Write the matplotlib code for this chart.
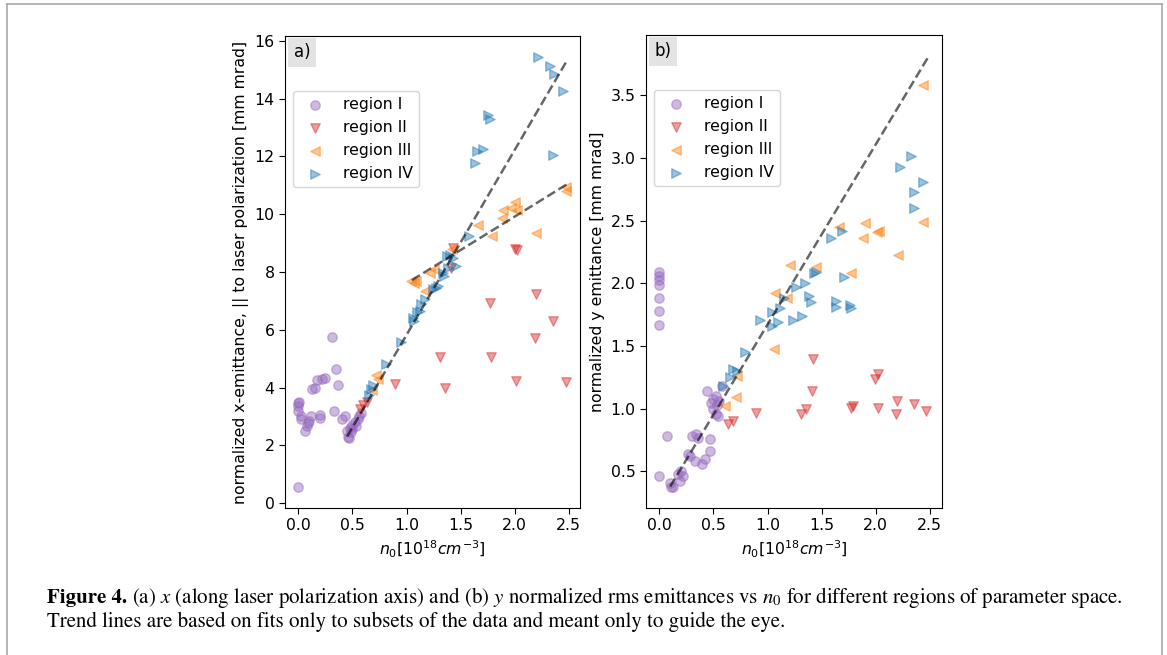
import matplotlib
matplotlib.use("Agg")
import matplotlib.pyplot as plt
from matplotlib.lines import Line2D

# ---- data, panel a (x-emittance) ----
xa_1 = [0.0, 0.0, 0.0, 0.01, 0.0, 0.02, 0.02, 0.06, 0.08, 0.09, 0.1, 0.12, 0.13, 0.15, 0.17,
        0.2, 0.2, 0.22, 0.25, 0.31, 0.35, 0.37, 0.33, 0.4, 0.43, 0.45, 0.46, 0.47, 0.48, 0.49,
        0.5, 0.5, 0.52, 0.53, 0.55, 0.56, 0.58]
ya_1 = [0.57, 3.45, 3.35, 3.5, 3.2, 3.0, 2.9, 2.48, 2.65, 2.78, 2.85, 3.02, 3.95, 4.0, 4.25,
        3.05, 2.95, 4.3, 4.32, 5.75, 4.65, 4.07, 3.18, 2.9, 3.0, 2.5, 2.3, 2.25, 2.6, 2.45,
        2.7, 2.55, 2.8, 2.65, 2.9, 3.0, 3.1]
xa_2 = [0.57, 0.6, 0.63, 0.89, 1.305, 1.36, 1.41, 1.43, 1.77, 1.78, 2.0, 2.02, 2.01, 2.2, 2.19, 2.35, 2.47]
ya_2 = [3.25, 3.4, 3.5, 4.13, 5.05, 3.98, 8.15, 8.83, 6.94, 5.05, 8.8, 8.75, 4.22, 7.23, 5.7, 6.31, 4.2]
xa_3 = [0.68, 0.72, 0.74, 1.04, 1.07, 1.09, 1.17, 1.22, 1.25, 1.42, 1.66, 1.79, 1.88, 1.89,
        1.97, 2.0, 2.02, 2.2, 2.47, 2.47]
ya_3 = [3.9, 4.45, 4.3, 7.7, 7.62, 7.68, 7.34, 7.97, 8.1, 8.8, 9.64, 9.23, 9.87, 10.15,
        10.2, 10.44, 10.15, 9.35, 10.8, 10.95]
xa_4 = [0.65, 0.67, 0.69, 0.81, 0.95, 1.06, 1.07, 1.1, 1.12, 1.13, 1.17, 1.24, 1.27, 1.29, 1.34,
        1.35, 1.38, 1.37, 1.4, 1.43, 1.46, 1.58, 1.63, 1.65, 1.71, 1.755, 1.77, 2.22, 2.33, 2.36,
        2.45, 2.35]
ya_4 = [3.73, 3.95, 4.07, 4.82, 5.56, 6.42, 6.31, 6.6, 6.65, 6.88, 7.05, 7.4, 7.46, 7.51, 7.97,
        7.86, 8.14, 8.55, 8.6, 8.49, 8.2, 9.23, 11.78, 12.2, 12.27, 13.42, 13.3, 15.43, 15.14, 14.86,
        14.28, 12.04]
# trend lines (end points)
fit_a1_x = [0.45, 2.48]
fit_a1_y = [2.3, 15.3]
fit_a2_x = [1.05, 2.48]
fit_a2_y = [7.72, 11.03]

# ---- data, panel b (y-emittance) ----
xb_1 = [0, 0, 0, 0, 0, 0, 0, 0.0, 0.07, 0.1, 0.11, 0.125, 0.17, 0.19, 0.2, 0.22, 0.26, 0.28, 0.3,
        0.34, 0.36, 0.33, 0.39, 0.42, 0.47, 0.47, 0.44, 0.48, 0.5, 0.52, 0.53, 0.55, 0.5, 0.52,
        0.54, 0.58]
yb_1 = [2.09, 2.06, 2.03, 1.99, 1.88, 1.78, 1.67, 0.46, 0.78, 0.41, 0.38, 0.38, 0.48, 0.42, 0.5,
        0.46, 0.64, 0.62, 0.78, 0.8, 0.77, 0.58, 0.56, 0.6, 0.66, 0.76, 1.14, 1.05, 1.0, 0.96,
        1.03, 1.06, 1.08, 1.1, 0.94, 1.18]
xb_2 = [0.63, 0.68, 0.89, 1.31, 1.36, 1.41, 1.42, 1.77, 1.79, 1.99, 2.02, 2.02, 2.2, 2.19, 2.36, 2.47]
yb_2 = [0.88, 0.9, 0.97, 0.96, 1.0, 1.14, 1.4, 1.01, 1.02, 1.24, 1.28, 1.01, 1.06, 0.96, 1.04, 0.98]
xb_3 = [0.61, 0.71, 0.72, 1.06, 1.07, 1.18, 1.21, 1.45, 1.66, 1.77, 1.88, 1.9, 2.01, 2.03, 2.21, 2.44, 2.44]
yb_3 = [1.02, 1.09, 1.26, 1.48, 1.92, 1.88, 2.15, 2.13, 2.45, 2.08, 2.36, 2.48, 2.41, 2.42, 2.23, 2.49, 3.58]
xb_4 = [0.59, 0.65, 0.68, 0.72, 0.79, 0.93, 1.04, 1.04, 1.1, 1.12, 1.15, 1.24, 1.26, 1.32, 1.35,
        1.38, 1.4, 1.43, 1.45, 1.59, 1.63, 1.63, 1.69, 1.71, 1.76, 1.77, 2.23, 2.33, 2.36, 2.36, 2.44]
yb_4 = [1.18, 1.25, 1.32, 1.3, 1.45, 1.71, 1.66, 1.77, 1.69, 1.8, 1.88, 1.71, 1.97, 1.74, 2.0,
        1.9, 1.85, 2.08, 2.09, 2.36, 1.86, 1.81, 2.42, 2.05, 1.83, 1.8, 2.93, 3.02, 2.73, 2.6, 2.81]
fit_b_x = [0.1, 2.49]
fit_b_y = [0.38, 3.81]

labels = ["region I", "region II", "region III", "region IV"]
markers = ["o", "v", "<", ">"]
colors = ["tab:purple", "tab:red", "tab:orange", "tab:blue"]

FS = 11.3
plt.rcParams["xtick.major.size"] = 4
plt.rcParams["ytick.major.size"] = 4

W, H = 1167, 655
fig = plt.figure(figsize=(W / 100, H / 100), dpi=100)

ax1 = fig.add_axes([285 / W, 1 - 508 / H, 295 / W, 472 / H])
ax2 = fig.add_axes([646 / W, 1 - 508 / H, 296 / W, 473 / H])

def draw(ax, series, fits, tag, ylabel):
    for (xs, ys), lab, m, c in zip(series, labels, markers, colors):
        ax.scatter(xs, ys, s=46, marker=m, color=c, alpha=0.45, label=lab, linewidths=1)
    for fx, fy in fits:
        ax.plot(fx, fy, "--", color="k", alpha=0.6, lw=1.8)
    ax.set_xticks([0.0, 0.5, 1.0, 1.5, 2.0, 2.5])
    ax.tick_params(labelsize=FS)
    ax.set_xlabel(r"$n_0[10^{18}cm^{-3}]$", fontsize=FS)
    ax.set_ylabel(ylabel, fontsize=FS)
    ax.text(0.03, 0.985, tag, transform=ax.transAxes, ha="left", va="top", fontsize=12,
            bbox=dict(facecolor="#e3e3e3", edgecolor="none", pad=4))
    ax.legend(loc="upper left", bbox_to_anchor=(0, 0.9), fontsize=FS)

draw(ax1, [(xa_1, ya_1), (xa_2, ya_2), (xa_3, ya_3), (xa_4, ya_4)],
     [(fit_a1_x, fit_a1_y), (fit_a2_x, fit_a2_y)], "a)",
     "normalized x-emittance, || to laser polarization [mm mrad]")
ax1.set_yticks(range(0, 17, 2))
draw(ax2, [(xb_1, yb_1), (xb_2, yb_2), (xb_3, yb_3), (xb_4, yb_4)],
     [(fit_b_x, fit_b_y)], "b)", "normalized y emittance [mm mrad]")

# page frame
fc = "#a8a8a8"
fig.add_artist(Line2D([7 / W, 7 / W], [0, 1 - 4 / H], color=fc, lw=1.2))
fig.add_artist(Line2D([7 / W, 1162 / W], [1 - 4 / H, 1 - 4 / H], color=fc, lw=1.2))
fig.add_artist(Line2D([1162 / W, 1162 / W], [0, 1 - 4 / H], color=fc, lw=1.2))

# caption
cap_kw = dict(fontsize=15, family="STIXGeneral", math_fontfamily="stix", va="baseline")
t = fig.text(47 / W, 1 - 603 / H, "Figure 4.", fontweight="bold", **cap_kw)
fig.canvas.draw()
bb = t.get_window_extent()
fig.text((bb.x1 + 5) / W, 1 - 603 / H,
         r"(a) $x$ (along laser polarization axis) and (b) $y$ normalized rms emittances vs $n_0$"
         r" for different regions of parameter space.", **cap_kw)
fig.text(47 / W, 1 - 627 / H,
         "Trend lines are based on fits only to subsets of the data and meant only to guide the eye.",
         **cap_kw)

fig.savefig("out.png", dpi=100)
